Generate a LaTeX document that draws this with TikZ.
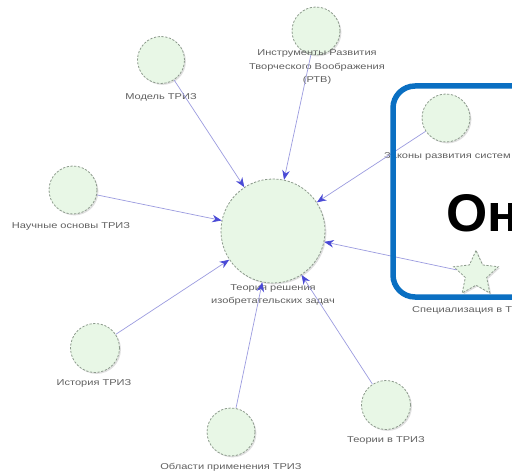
\documentclass[tikz,border=0pt]{standalone}
\usepackage{fontspec}
\setmainfont{Liberation Sans}
\newfontfamily\lblfont[FakeStretch=1.3]{Liberation Sans}
\usetikzlibrary{arrows.meta,shapes.geometric,shadows}
\definecolor{nodefill}{HTML}{E8F7E6}
\definecolor{nodeline}{HTML}{8C9A8C}
\definecolor{edgeline}{HTML}{9C9CE0}
\definecolor{tipblue}{HTML}{4A4AD6}
\definecolor{labelgray}{HTML}{606060}
\definecolor{calloutblue}{HTML}{0A6FC2}
\begin{document}
\begin{tikzpicture}[x=1pt,y=-1pt,
  topic/.style={circle, draw=nodeline, fill=nodefill, line width=0.8pt,
    dash pattern=on 2.2pt off 1.6pt, inner sep=0pt, minimum size=#1,
    drop shadow={shadow xshift=1.4pt, shadow yshift=-1.4pt, opacity=0.25}},
  starnode/.style={star, star points=5, star point ratio=2.1, draw=nodeline,
    fill=nodefill, line width=0.8pt, dash pattern=on 2.2pt off 1.6pt,
    inner sep=0pt, minimum size=#1,
    drop shadow={shadow xshift=1.4pt, shadow yshift=-1.4pt, opacity=0.25}},
  lbl/.style={text=labelgray, font=\lblfont\fontsize{8.5}{13.5}\selectfont,
    align=center, inner sep=0pt},
  link/.style={draw=edgeline, line width=0.7pt,
    -{Stealth[length=9.5pt,width=7.5pt,color=tipblue]}}
]
\useasboundingbox (0,0) rectangle (512,476);
\clip (0,0) rectangle (512,476);
\fill[white] (0,0) rectangle (512,476);

% topic circles
\node[topic=104pt] (core) at (273,231) {};
\node[topic=47pt] (model) at (161,60) {};
\node[topic=48pt] (rtv) at (316,31) {};
\node[topic=48pt] (laws) at (446,118) {};
\node[topic=48pt] (science) at (73,190) {};
\node[topic=49pt] (history) at (95,348) {};
\node[topic=48pt] (areas) at (231,432) {};
\node[topic=49pt] (theories) at (386,405) {};
\node[starnode=47pt] (spec) at (476,274) {};

% labels
\node[lbl] (lcore) at (273,295) {Теория решения\\изобретательских задач};
\node[lbl] (lmodel) at (161,97) {Модель ТРИЗ};
\node[lbl] (lrtv) at (317,67) {Инструменты Развития\\Творческого Воображения\\(РТВ)};
\node[lbl, anchor=west] (llaws) at (384,156) {Законы развития систем};
\node[lbl] (lscience) at (71,226) {Научные основы ТРИЗ};
\node[lbl] (lhistory) at (94,383) {История ТРИЗ};
\node[lbl] (lareas) at (231,467) {Области применения ТРИЗ};
\node[lbl] (ltheories) at (386,440) {Теории в ТРИЗ};
\node[lbl, anchor=west] (lspec) at (412,310) {Специализация в ТРИЗ};

% connectors into the core topic
\draw[link] (model) -- (core);
\draw[link] (rtv) -- (core);
\draw[link] (laws) -- (core);
\draw[link] (science) -- (core);
\draw[link] (history) -- (core);
\draw[link] (areas) -- (core);
\draw[link] (theories) -- (core);
\draw[link] (spec) -- (core);

% callout frame with heading
\draw[calloutblue, line width=5.5pt, rounded corners=22pt] (393,86) rectangle (600,297);
\node[anchor=base west, inner sep=0pt, font=\bfseries\fontsize{53}{60}\selectfont] (title) at (446,232) {Он};
\end{tikzpicture}
\end{document}
